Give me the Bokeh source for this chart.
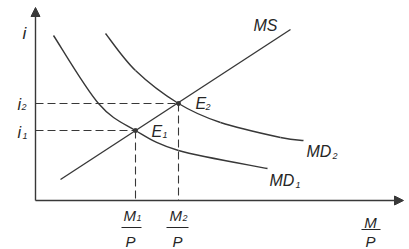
from bokeh.plotting import figure
from bokeh.models import Range1d, Arrow, NormalHead
from bokeh.embed import file_html
from bokeh.resources import INLINE
from bokeh.core.properties import value

# ---- schematic data (origin at the axes corner; 1 unit ~ 10 px) ----
ms_x = [2.5, 25.5]
ms_y = [2.1, 17.1]
md1_x = [1.8, 6.3, 10.0, 14.3, 23.2]
md1_y = [16.5, 9.7, 7.0, 5.0, 3.2]
md2_x = [7.0, 10.0, 14.3, 18.5, 24.5, 26.8]
md2_y = [16.7, 13.0, 9.7, 7.8, 6.3, 6.0]
eq_x = [10.0, 14.3]          # M1/P, M2/P
eq_y = [7.0, 9.7]            # i1, i2
x_axis_end = 36.8
y_axis_end = 19.3

LINE = "#383838"
TEXT = "#262626"
FONT = value("Liberation Sans")
OFF = 4   # renderer baseline correction (px)

def X(px):
    return (px - 35) / 10.0

def Y(py):
    return (200 - py) / 10.0

p = figure(width=409, height=249, x_range=Range1d(X(0), X(409)), y_range=Range1d(Y(249), Y(0)),
           x_axis_type=None, y_axis_type=None, toolbar_location=None, output_backend="svg",
           min_border=0, outline_line_color=None, background_fill_color="white",
           border_fill_color="white")
p.grid.visible = False

# axes with arrow heads
p.add_layout(Arrow(end=NormalHead(size=9, fill_color=LINE, line_color=LINE),
                   x_start=0, y_start=0, x_end=0, y_end=y_axis_end,
                   line_color=LINE, line_width=1.4))
p.add_layout(Arrow(end=NormalHead(size=9, fill_color=LINE, line_color=LINE),
                   x_start=0, y_start=0, x_end=x_axis_end, y_end=0,
                   line_color=LINE, line_width=1.4))

# smooth curves through the read points (Catmull-Rom -> cubic Bezier)
def smooth(xs, ys):
    n = len(xs)
    px = [xs[0]] + list(xs) + [xs[-1]]
    py = [ys[0]] + list(ys) + [ys[-1]]
    segs = dict(x0=[], y0=[], x1=[], y1=[], cx0=[], cy0=[], cx1=[], cy1=[])
    for i in range(1, n):
        segs["x0"].append(px[i]); segs["y0"].append(py[i])
        segs["x1"].append(px[i + 1]); segs["y1"].append(py[i + 1])
        segs["cx0"].append(px[i] + (px[i + 1] - px[i - 1]) / 6.0)
        segs["cy0"].append(py[i] + (py[i + 1] - py[i - 1]) / 6.0)
        segs["cx1"].append(px[i + 1] - (px[i + 2] - px[i]) / 6.0)
        segs["cy1"].append(py[i + 1] - (py[i + 2] - py[i]) / 6.0)
    return segs

for xs, ys in [(md1_x, md1_y), (md2_x, md2_y)]:
    s = smooth(xs, ys)
    p.bezier(x0=s["x0"], y0=s["y0"], x1=s["x1"], y1=s["y1"],
             cx0=s["cx0"], cy0=s["cy0"], cx1=s["cx1"], cy1=s["cy1"],
             line_color=LINE, line_width=1.4)

# MS line
p.line(ms_x, ms_y, line_color=LINE, line_width=1.4)

# dashed guides
p.segment(x0=[0] * len(eq_x), y0=eq_y, x1=eq_x, y1=eq_y,
          line_color=LINE, line_width=1.1, line_dash="8 4")
p.segment(x0=eq_x, y0=eq_y, x1=eq_x, y1=[0] * len(eq_x),
          line_color=LINE, line_width=1.1, line_dash="8 4")

# equilibrium points
p.scatter(eq_x, eq_y, size=4, color=LINE)

def txt(px, py, s, size="16px", align="left"):
    p.text(x=[X(px)], y=[Y(py - OFF)], text=[s], text_font=FONT, text_font_style="italic",
           text_font_size=size, text_color=TEXT, text_align=align, text_baseline="alphabetic")

SUB = "9px"
# y-axis labels
txt(24, 37, "i", "17px", "center")
txt(17, 108, "i")
txt(21, 110, "2", SUB)
txt(17, 136, "i")
txt(22, 139, "1", SUB)

# curve labels
txt(253, 29, "MS")
txt(306, 155, "MD")
txt(332, 159, "2", SUB)
txt(269, 184, "MD")
txt(295, 188, "1", SUB)
txt(151, 135, "E")
txt(162, 138, "1", SUB)
txt(195, 107, "E")
txt(205, 110, "2", SUB)

# fraction labels on x axis
fr_bar_x0 = [X(121), X(166), X(361)]
fr_bar_x1 = [X(141), X(188), X(380)]
p.segment(x0=fr_bar_x0, y0=[Y(227), Y(227), Y(229)], x1=fr_bar_x1, y1=[Y(227), Y(227), Y(229)],
          line_color=TEXT, line_width=1.2)
txt(123, 219, "M", "15px")
txt(136, 221, "1", SUB)
txt(130, 245, "P", "15px", "center")
txt(169, 219, "M", "15px")
txt(182, 221, "2", SUB)
txt(177, 245, "P", "15px", "center")
txt(370, 226, "M", "15px", "center")
txt(370, 245, "P", "15px", "center")

open("out.html", "w").write(file_html(p, INLINE))
